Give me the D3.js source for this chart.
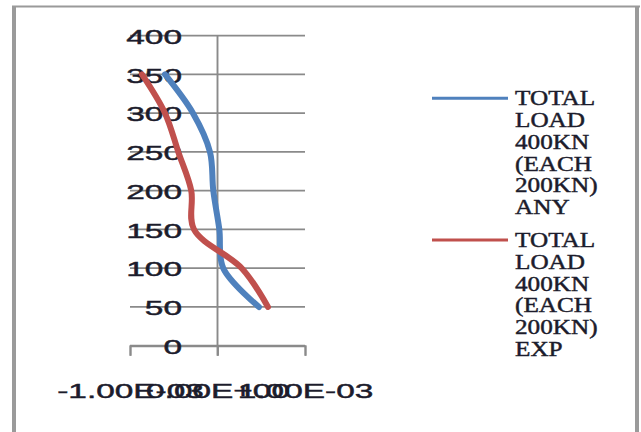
<!DOCTYPE html>
<html>
<head>
<meta charset="utf-8">
<script src="https://cdn.jsdelivr.net/npm/d3@7"></script>
<style>
  html, body { margin: 0; padding: 0; background: #fff; }
  svg { display: block; }
</style>
</head>
<body>
<svg id="chart" width="641" height="432"></svg>
<script>
// Load (kN) levels at which displacement was recorded
const loads = [50, 100, 150, 200, 250, 300, 350];
// Displacement values for each series (same order as loads)
const dispAny = [0.000474, 0.000066, 0.000021, -0.000048, -0.000086, -0.000280, -0.000600];
const dispExp = [0.000577, 0.000277, -0.000269, -0.000300, -0.000448, -0.000600, -0.000863];

const seriesNames = ["ANY", "EXP"];
const seriesLabelLines = [
  ["TOTAL", "LOAD", "400KN", "(EACH", "200KN)", "ANY"],
  ["TOTAL", "LOAD", "400KN", "(EACH", "200KN)", "EXP"]
];
const seriesColors = ["#4f81bd", "#c0504d"];

const yTicks = [0, 50, 100, 150, 200, 250, 300, 350, 400];
const xTicks = [-0.001, 0, 0.001];
const xTickLabels = ["-1.00E-03", "0.00E+00", "1.00E-03"];

const svg = d3.select("#chart");

// Outer frame of the chart area
const frame = svg.append("g").attr("fill", "none").attr("stroke", "#9a9a9a");
frame.append("line").attr("x1", 14).attr("y1", 6).attr("x2", 14).attr("y2", 432).attr("stroke-width", 4);
frame.append("line").attr("x1", 12).attr("y1", 6.5).attr("x2", 640).attr("y2", 6.5).attr("stroke-width", 2);
frame.append("line").attr("x1", 637).attr("y1", 6).attr("x2", 637).attr("y2", 432).attr("stroke-width", 4);

const x = d3.scaleLinear().domain([-0.001, 0.001]).range([130, 305]);
const y = d3.scaleLinear().domain([0, 400]).range([345.7, 35.7]);

const gridColor = "#8a8a8a";

// Horizontal gridlines
svg.append("g")
  .selectAll("line")
  .data(yTicks)
  .join("line")
  .attr("x1", x.range()[0]).attr("x2", x.range()[1])
  .attr("y1", d => y(d)).attr("y2", d => y(d))
  .attr("stroke", gridColor).attr("stroke-width", 1.7);

// Vertical axis line through zero
svg.append("line")
  .attr("x1", x(0)).attr("x2", x(0))
  .attr("y1", y(400)).attr("y2", y(0) + 10)
  .attr("stroke", gridColor).attr("stroke-width", 1.9);

// Horizontal axis with downward tick marks
const xAxis = d3.axisBottom(x).tickValues(xTicks).tickSize(10).tickFormat((d, i) => xTickLabels[i]).tickPadding(28);
const gx = svg.append("g").attr("transform", `translate(0,${y(0)})`).call(xAxis);
gx.select(".domain").attr("stroke", gridColor).attr("stroke-width", 1.9);
gx.selectAll(".tick line").attr("stroke", gridColor).attr("stroke-width", 1.9);

// Vertical axis labels
const yAxis = d3.axisLeft(y).tickValues(yTicks).tickSize(0).tickPadding(0).tickFormat(d3.format("d"));
const gy = svg.append("g").attr("transform", "translate(182,0)").call(yAxis);
gy.select(".domain").remove();

const sansFont = "'Liberation Sans', Arial, sans-serif";
const serifFont = "'Liberation Serif', 'Times New Roman', serif";
const textColor = "#1c1c2c";

// Widen text horizontally; anchor: "start" | "middle" | "end"
function widen(textSel, sx, anchor) {
  textSel.each(function () {
    const t = d3.select(this);
    t.attr("text-anchor", "start");
    const ox = +t.attr("x") || 0;
    const len = this.getComputedTextLength();
    const w = len * sx;
    let left = ox;
    if (anchor === "end") left = ox - w;
    else if (anchor === "middle") left = ox - w / 2;
    t.attr("x", left).attr("textLength", w).attr("lengthAdjust", "spacingAndGlyphs");
  });
}

function styleText(sel, family) {
  sel.attr("font-family", family).attr("font-size", 21)
    .attr("fill", textColor).attr("stroke", textColor).attr("stroke-width", 0.45);
}

styleText(gy.selectAll(".tick text"), sansFont);
gy.selectAll(".tick text").attr("dy", "0.36em").attr("x", 0);
widen(gy.selectAll(".tick text"), 1.59, "end");

styleText(gx.selectAll(".tick text"), sansFont);
gx.selectAll(".tick text").attr("dy", "0").attr("y", 52.3).attr("x", 0);
widen(gx.selectAll(".tick text"), 1.59, "middle");
svg.selectAll(".tick text").attr("font-family", sansFont);

// Smoothed load–displacement curves
const line = d3.line()
  .x(d => x(d.v))
  .y(d => y(d.load))
  .curve(d3.curveCatmullRom.alpha(0.5));

const series = [dispAny, dispExp].map((vals, i) => ({
  name: seriesNames[i],
  color: seriesColors[i],
  points: loads.map((l, j) => ({ load: l, v: vals[j] }))
}));

svg.append("g")
  .selectAll("path")
  .data(series)
  .join("path")
  .attr("d", d => line(d.points))
  .attr("fill", "none")
  .attr("stroke", d => d.color)
  .attr("stroke-width", 6)
  .attr("stroke-linecap", "round")
  .attr("stroke-linejoin", "round");

// Legend
const legendTop = [98.3, 240];
const lineStep = 21.7;
const legend = svg.append("g");
series.forEach((s, i) => {
  const g = legend.append("g");
  g.append("line")
    .attr("x1", 432).attr("x2", 508)
    .attr("y1", legendTop[i]).attr("y2", legendTop[i])
    .attr("stroke", s.color).attr("stroke-width", 3);
  const texts = g.selectAll("text")
    .data(seriesLabelLines[i])
    .join("text")
    .attr("x", 515)
    .attr("y", (d, k) => legendTop[i] + k * lineStep)
    .attr("dy", "0.34em")
    .text(d => d);
  styleText(texts, serifFont);
  widen(texts, 1.2, "start");
});
</script>
</body>
</html>
